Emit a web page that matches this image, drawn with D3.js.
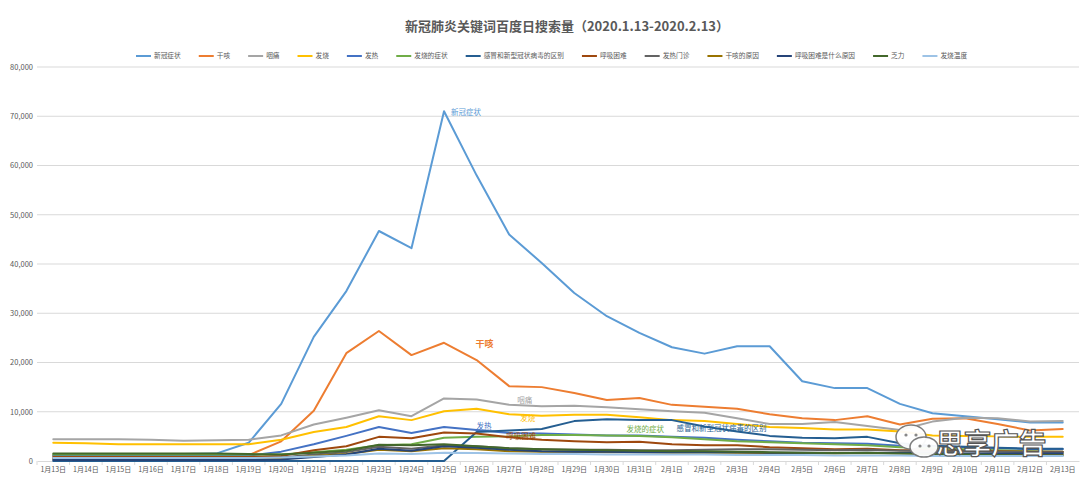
<!DOCTYPE html>
<html><head><meta charset="utf-8">
<script src="https://cdn.jsdelivr.net/npm/d3@7"></script>
<style>
html,body{margin:0;padding:0;background:#fff;}
svg{display:block;font-family:"Noto Sans CJK SC","Noto Sans",sans-serif;}
</style></head>
<body><svg id="c" width="1080" height="487"></svg>
<script>
const titleText = "新冠肺炎关键词百度日搜索量（2020.1.13-2020.2.13）";
const dates = ["1月13日","1月14日","1月15日","1月16日","1月17日","1月18日","1月19日","1月20日","1月21日","1月22日","1月23日","1月24日","1月25日","1月26日","1月27日","1月28日","1月29日","1月30日","1月31日","2月1日","2月2日","2月3日","2月4日","2月5日","2月6日","2月7日","2月8日","2月9日","2月10日","2月11日","2月12日","2月13日"];
const seriesNames = ["新冠症状","干咳","咽痛","发烧","发热","发烧的症状","感冒和新型冠状病毒的区别","呼吸困难","发热门诊","干咳的原因","呼吸困难是什么原因","乏力","发烧温度"];
const seriesColors = ["#5B9BD5","#ED7D31","#A5A5A5","#FFC000","#4472C4","#70AD47","#255E91","#9E480E","#636363","#997300","#264478","#43682B","#9DC3E6"];
const s1 = [1200,1200,1200,1200,1400,1500,3700,11600,25200,34500,46700,43200,71000,58000,46000,40200,34100,29400,26000,23100,21800,23300,23300,16200,14800,14800,11600,9700,9100,8500,7800,7800];
const s2 = [1100,1100,1100,1100,1100,1100,1200,4000,10200,21900,26400,21500,24000,20500,15200,15000,13800,12400,12800,11400,11000,10600,9500,8700,8300,9100,7400,8600,8700,7500,6200,6500];
const s3 = [4400,4400,4400,4300,4100,4200,4300,5200,7400,8800,10300,9100,12700,12500,11400,11100,11200,10900,10500,10100,9800,8700,7500,7500,7900,7100,6300,8000,8800,8700,8000,8100];
const s4 = [3700,3600,3400,3400,3400,3400,3400,4300,5900,6900,9100,8300,10100,10600,9500,9200,9400,9400,8900,8300,8100,7500,6900,6700,6400,6400,6000,5200,5100,5000,4900,4900];
const s5 = [1000,1000,1000,1000,1000,1000,1100,1900,3400,5100,6900,5700,6900,6300,5700,5600,5400,5200,5200,4900,4700,4300,4000,3700,3600,3500,3100,3000,2800,2600,2400,2400];
const s6 = [1300,1300,1300,1300,1300,1300,1300,1300,1800,2300,3200,3400,4700,4900,5000,5300,5300,5200,5100,4800,4400,4000,3800,3600,3400,3200,2800,2600,2400,2200,2000,1900];
const s7 = [0,0,0,0,0,0,0,0,0,0,0,0,0,5900,6200,6500,8100,8500,8300,8300,7000,6000,5100,4700,4600,4900,3600,3100,2900,2700,2500,2500];
const s8 = [800,800,800,800,800,800,800,1000,2200,3000,4900,4600,5800,5600,4800,4300,4000,3800,3900,3400,3200,3200,2800,2600,2400,2500,2200,2200,2100,2000,1900,1900];
const s9 = [500,500,500,500,500,500,500,700,1300,1800,2900,2500,3200,3000,2600,2400,2300,2300,2200,2200,2300,2400,2400,2300,2200,2300,2100,2000,2000,1900,1800,1800];
const s10 = [400,400,400,400,400,400,400,500,1000,1400,2300,2000,2600,2400,2000,1900,1900,1800,1800,1700,1700,1700,1600,1600,1500,1600,1500,1400,1400,1400,1300,1300];
const s11 = [200,200,200,200,200,200,200,300,800,1300,2500,2100,3000,2700,2300,2000,1900,1900,1800,1800,1800,1800,1700,1700,1600,1700,1600,1600,1500,1500,1500,1500];
const s12 = [1500,1500,1500,1500,1500,1500,1400,1300,1700,2100,3300,3200,3400,3000,2600,2400,2300,2200,2100,2000,2000,1900,1800,1700,1600,1700,1500,1400,1300,1200,1100,1100];
const s13 = [600,600,600,600,600,600,600,700,900,1100,1500,1400,1700,1600,1500,1400,1400,1300,1300,1300,1300,1200,1200,1200,1100,1100,1100,1000,1000,1000,1000,1000];
const yTicks = [0,10000,20000,30000,40000,50000,60000,70000,80000];
const watermark = "思享广告";

const allSeries = [s1,s2,s3,s4,s5,s6,s7,s8,s9,s10,s11,s12,s13];

// data label placement: [series index, point index, dx, dy, size, weight]
const labelSpec = [
  [0,12,7,4,7.5,"normal"],
  [1,13,-1,-13,9,"bold"],
  [2,14,8,-2,7.5,"normal"],
  [3,14,11,7,7.5,"normal"],
  [4,13,0,-1,7.5,"normal"],
  [7,14,-3,2,7.5,"normal"],
  [5,18,-13,-4,7.5,"normal"],
  [6,20,-28,4,7.5,"normal"]
];

const svg = d3.select("#c");
const pLeft = 37, pRight = 1079, pTop = 67, pBottom = 461;
const x = d3.scaleBand().domain(dates).range([pLeft, pRight]);
const y = d3.scaleLinear().domain([0, 80000]).range([pBottom, pTop]);
const cx = d => x(d) + x.bandwidth()/2;

// title
svg.append("text").attr("x", 567).attr("y", 31).attr("text-anchor","middle")
  .attr("font-size", 13).attr("font-weight","bold").attr("fill","#595959").text(titleText);

// gridlines
svg.append("g").selectAll("line").data(yTicks.filter(t=>t>0)).join("line")
  .attr("x1", pLeft).attr("x2", pRight).attr("y1", d=>y(d)).attr("y2", d=>y(d))
  .attr("stroke","#D9D9D9").attr("stroke-width",1);

// y axis
const yAxis = d3.axisLeft(y).tickValues(yTicks).tickSize(0).tickPadding(4).tickFormat(d3.format(","));
const yg = svg.append("g").attr("transform",`translate(${pLeft},0)`).call(yAxis);
yg.select(".domain").remove();
yg.selectAll("text").attr("font-size",7.5).attr("fill","#595959").attr("font-family","Noto Sans CJK SC, sans-serif");

// x axis
const xAxis = d3.axisBottom(x).tickSize(0).tickPadding(6);
const xg = svg.append("g").attr("transform",`translate(0,${pBottom})`).call(xAxis);
xg.select(".domain").attr("stroke","#D9D9D9");
xg.selectAll("text").attr("font-size",7).attr("fill","#595959").attr("font-family","Noto Sans CJK SC, sans-serif");
// tick marks between categories
svg.append("g").selectAll("line").data(dates).join("line")
  .attr("x1", d=>x(d)).attr("x2", d=>x(d)).attr("y1", pBottom).attr("y2", pBottom+4)
  .attr("stroke","#D9D9D9");

// lines
const line = d3.line().x((v,i)=>cx(dates[i])).y(v=>y(v));
svg.append("g").selectAll("path").data(allSeries).join("path")
  .attr("d", d=>line(d)).attr("fill","none")
  .attr("stroke",(d,i)=>seriesColors[i]).attr("stroke-width",2)
  .attr("stroke-linejoin","round").attr("stroke-linecap","round");

// data labels
svg.append("g").selectAll("text").data(labelSpec).join("text")
  .attr("x", d=>cx(dates[d[1]])+d[2]).attr("y", d=>y(allSeries[d[0]][d[1]])+d[3])
  .attr("font-size", d=>d[4]).attr("font-weight", d=>d[5])
  .attr("fill", d=>seriesColors[d[0]]).text(d=>seriesNames[d[0]]);

// legend
const lg = svg.append("g");
let lx = 136;
const ly = 56;
seriesNames.forEach((n,i)=>{
  lg.append("line").attr("x1",lx).attr("x2",lx+15).attr("y1",ly).attr("y2",ly)
    .attr("stroke",seriesColors[i]).attr("stroke-width",2);
  const t = lg.append("text").attr("x",lx+18).attr("y",ly+2.4).attr("font-size",6.7)
    .attr("fill","#595959").text(n);
  const w = t.node().getComputedTextLength();
  lx += 18 + w + 18;
});

// watermark
const wm = svg.append("g");
wm.append("ellipse").attr("cx",911).attr("cy",437).attr("rx",15).attr("ry",12)
  .attr("fill","#fff").attr("stroke","#777").attr("stroke-width",1.5).attr("opacity",0.95);
wm.append("ellipse").attr("cx",924).attr("cy",447).attr("rx",14).attr("ry",10)
  .attr("fill","#fff").attr("stroke","#777").attr("stroke-width",1.5).attr("opacity",0.95);
[[906,435],[916,435],[920,446],[929,446]].forEach(p=>wm.append("circle").attr("cx",p[0]).attr("cy",p[1]).attr("r",1.6).attr("fill","#888"));
wm.append("text").attr("x",936).attr("y",454).attr("font-size",28).attr("font-weight","bold")
  .attr("fill","#fff").attr("stroke","#555").attr("stroke-width",1.2).attr("letter-spacing",-0.5).text(watermark);
</script></body></html>
